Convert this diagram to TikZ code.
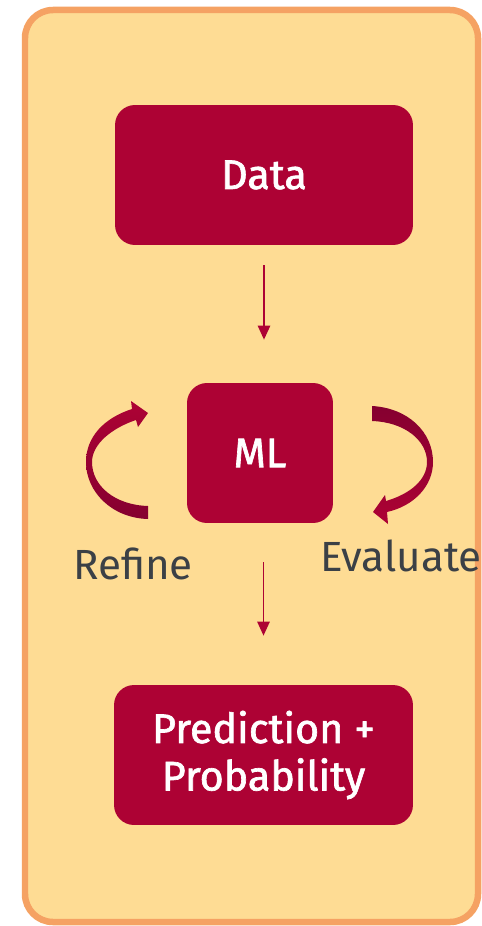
\documentclass[tikz,border=0pt]{standalone}
\usepackage{fontspec}
\setmainfont{Fira Sans}
\newfontfamily\stagefont{Fira Sans}[FakeBold=1.6]
\usetikzlibrary{positioning,arrows.meta}
\definecolor{panelfill}{HTML}{FEDC94}
\definecolor{panelline}{HTML}{F5A263}
\definecolor{boxred}{HTML}{AD0234}
\definecolor{darkred}{HTML}{850030}
\definecolor{labelgray}{HTML}{3B4046}

\begin{document}
\begin{tikzpicture}[x=0.02cm, y=-0.02cm,
  stage/.style={fill=boxred, rounded corners=0.4cm, text=white, align=center,
    minimum height=2.8cm, inner sep=0pt, font=\stagefont\fontsize{23.5}{27}\selectfont},
  flow/.style={draw=boxred, line width=1.1pt, -{Triangle[width=7pt,length=8pt]}},
  loopnote/.style={text=labelgray, anchor=base, inner sep=0pt,
    font=\fontsize{24}{28}\selectfont}]
% 1 unit = 1px, y grows downwards
\useasboundingbox (0,0) rectangle (481,926);
\draw[panelline, fill=panelfill, line width=0.13cm, rounded corners=0.56cm]
  (25,10) rectangle (478,922);

% stages
\node[stage, minimum width=5.96cm] (data) at (264,175) {Data};
\node[stage, minimum width=2.92cm] (ml) at (260,453) {ML};
\node[stage, minimum width=5.98cm] (pred) at (263.5,755) {Prediction +\\Probability};

\draw[flow, shorten <=0.4cm, shorten >=0.86cm] (data.south) -- (data.south |- ml.north);
\draw[flow, shorten <=0.78cm, shorten >=0.98cm] (pred.north |- ml.south) -- (pred.north);

% refine loop (left), tapering band with head
\shade[top color=boxred, bottom color=darkred]
  (148,519) .. controls (112,518) and (86,492) .. (86,462)
  .. controls (86,437) and (104,418) .. (132,409)
  -- (131,401) -- (148,413) -- (138,427) -- (136,420)
  .. controls (112,428) and (92,444) .. (92,462)
  .. controls (92,486) and (115,505) .. (148,506) -- cycle;
% evaluate loop (right)
\shade[top color=darkred, bottom color=boxred]
  (372,406) .. controls (408,408) and (433,432) .. (433,462)
  .. controls (433,486) and (414,506) .. (387,512)
  -- (388,524) -- (373,512) -- (385,495) -- (386,501)
  .. controls (410,494) and (427,480) .. (427,462)
  .. controls (427,440) and (404,422) .. (372,421) -- cycle;

\node[loopnote] (refine) at (133,579) {Refine};
\node[loopnote] (evaluate) at (401,571) {Evaluate};
\end{tikzpicture}
\end{document}
